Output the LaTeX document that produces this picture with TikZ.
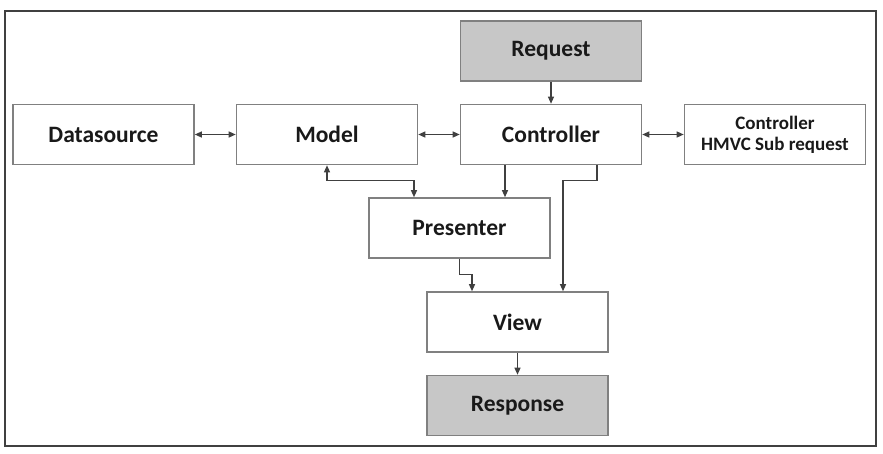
\documentclass[tikz,border=0pt]{standalone}
\usepackage{fontspec}
\setmainfont{Carlito}
\usetikzlibrary{arrows.meta}
\begin{document}
\begin{tikzpicture}[x=1pt,y=-1pt,
  box/.style={draw=black!50, line width=1.6pt, minimum width=181pt, minimum height=60pt,
    inner sep=0pt, font=\fontsize{23.5}{26}\selectfont\bfseries, text=black!90, align=center},
  grey/.style={box, fill=black!22},
  conn/.style={draw=black!75, line width=1.2pt, arrows={-Triangle[length=7pt,width=6pt]}},
  both/.style={draw=black!75, line width=1.2pt, arrows={Triangle[length=7pt,width=6pt]-Triangle[length=7pt,width=6pt]}}]
\useasboundingbox (0,0) rectangle (883,453);
\draw[draw=black!75, line width=1.6pt] (5,11) rectangle (876,446);
\node[box]  (ds)   at (103.5,134.5) {Datasource};
\node[box]  (mod)  at (327,134.5)   {Model};
\node[box]  (ctl)  at (551,134.5)   {Controller};
\node[grey] (req)  at (551,51)      {Request};
\node[box, font=\fontsize{19}{21}\selectfont\bfseries] (hmvc) at (775,134.5) {Controller\\HMVC Sub request};
\node[box]  (pre)  at (459.5,228)   {Presenter};
\node[box]  (view) at (517.5,322)   {View};
\node[grey] (resp) at (517.5,405.5) {Response};
\draw[both] (ds.east) -- (mod.west);
\draw[both] (mod.east) -- (ctl.west);
\draw[both] (ctl.east) -- (hmvc.west);
\draw[conn] (req.south) -- (ctl.north);
\draw[both] (mod.south) -- ++(0,15) -| ([xshift=-45.5pt]pre.north);
\draw[conn] ([xshift=-46pt]ctl.south) -- ([xshift=-46pt]ctl.south |- pre.north);
\draw[conn] ([xshift=46pt]ctl.south) -- ++(0,15) -| ([xshift=45.5pt]view.north);
\draw[conn] (pre.south) -- ++(0,16) -| ([xshift=-45.5pt]view.north);
\draw[conn] (view.south) -- (resp.north);
\end{tikzpicture}
\end{document}
